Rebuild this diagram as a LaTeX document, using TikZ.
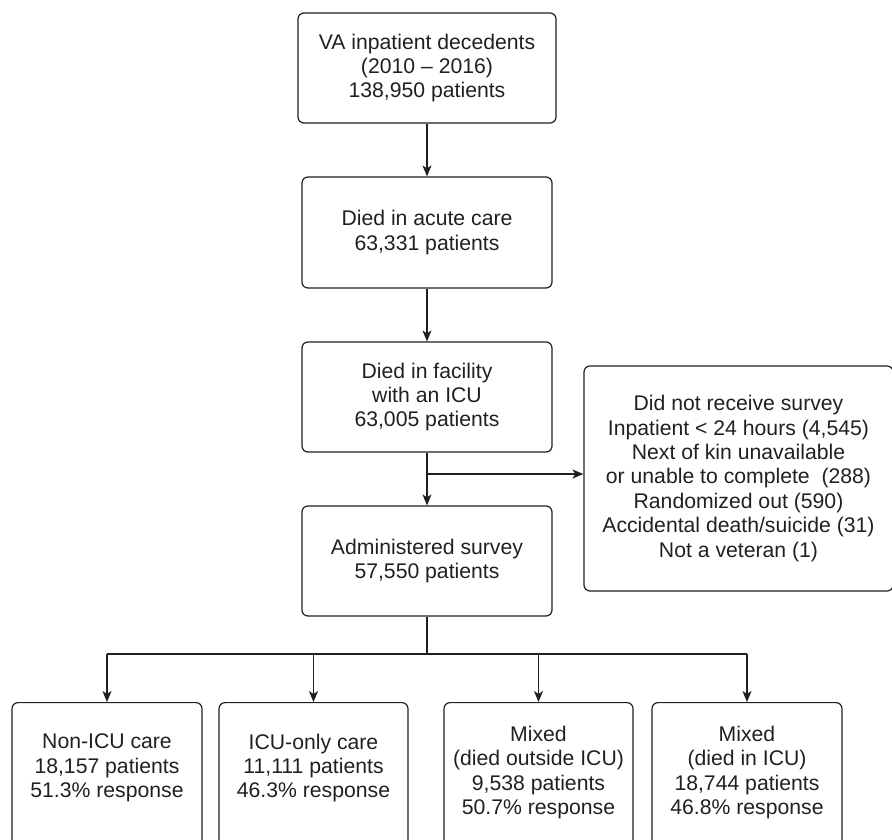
\documentclass[tikz,border=0pt]{standalone}
\usepackage{fontspec}
\setmainfont{Liberation Sans}
\usetikzlibrary{arrows.meta}
\definecolor{ink}{RGB}{35,31,32}
\begin{document}
\begin{tikzpicture}[x=1pt,y=-1pt,
  box/.style={draw=ink,line width=1.2pt,rounded corners=6pt,inner sep=0pt,align=center,text=ink,font=\fontsize{21.2}{24.4}\selectfont},
  txt/.style={inner sep=0pt,align=center,text=ink,font=\fontsize{21.2}{24.4}\selectfont},
  arr/.style={draw=ink,line width=1.2pt,-{Stealth[length=11pt,width=9pt,inset=3pt]}},
  ln/.style={draw=ink,line width=1.2pt}]
\useasboundingbox (0,0) rectangle (892,839);
\clip (0,0) rectangle (892,839);
% main column
\node[box,minimum width=258,minimum height=110] (n1) at (427,68) {VA inpatient decedents\\(2010 – 2016)\\138,950 patients};
\node[box,minimum width=250,minimum height=111] (n2) at (427,232.5) {Died in acute care\\63,331 patients};
\node[box,minimum width=250,minimum height=110] (n3) at (427,397) {Died in facility\\with an ICU\\63,005 patients};
\node[box,minimum width=250,minimum height=110] (n4) at (427,561) {Administered survey\\57,550 patients};
% exclusion box
\node[box,minimum width=309,minimum height=225] (nr) at (738.5,478.5) {Did not receive survey\\Inpatient < 24 hours (4,545)\\Next of kin unavailable\\or unable to complete~ (288)\\Randomized out (590)\\Accidental death/suicide (31)\\Not a veteran (1)};
% bottom boxes
\node[box,anchor=north,minimum width=190,minimum height=160] (b1) at (107,702) {};
\node[box,anchor=north,minimum width=189,minimum height=160] (b2) at (313.5,702) {};
\node[box,anchor=north,minimum width=189,minimum height=160] (b3) at (538.5,702) {};
\node[box,anchor=north,minimum width=190,minimum height=160] (b4) at (747,702) {};
\node[txt] (t1) at (107,768) {Non-ICU care\\18,157 patients\\51.3\% response};
\node[txt] (t2) at (313.5,768) {ICU-only care\\11,111 patients\\46.3\% response};
\node[txt] (t3) at (538.5,772.5) {Mixed\\(died outside ICU)\\9,538 patients\\50.7\% response};
\node[txt] (t4) at (747,772.5) {Mixed\\(died in ICU)\\18,744 patients\\46.8\% response};
% connectors
\draw[arr] (n1) -- (n2);
\draw[arr] (n2) -- (n3);
\draw[arr] (n3) -- (n4);
\coordinate (br) at (427,474);
\draw[arr] (br) -- (br -| nr.west);
\coordinate (hb) at (427,654);
\draw[ln] (n4.south) -- (hb);
\draw[ln] (hb -| b1.north) -- (hb -| b4.north);
\draw[arr] (hb -| b1.north) -- (b1.north);
\draw[arr] (hb -| b2.north) -- (b2.north);
\draw[arr] (hb -| b3.north) -- (b3.north);
\draw[arr] (hb -| b4.north) -- (b4.north);
\end{tikzpicture}
\end{document}
